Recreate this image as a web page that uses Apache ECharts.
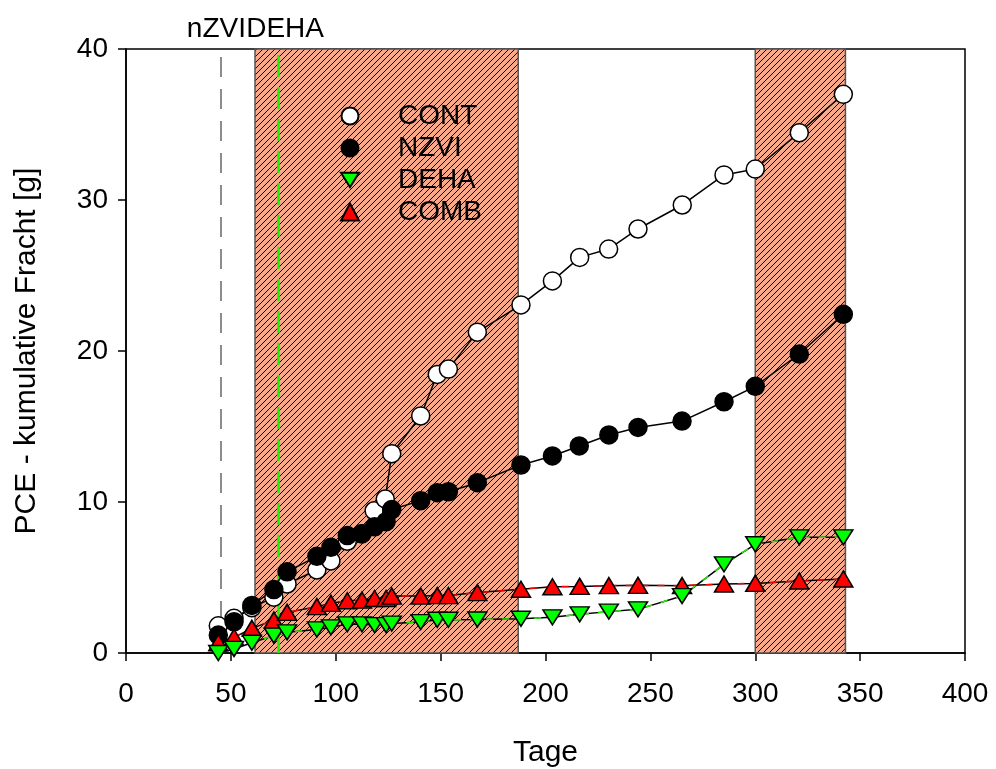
<!DOCTYPE html>
<html>
<head>
<meta charset="utf-8">
<script src="https://cdn.jsdelivr.net/npm/echarts@6/dist/echarts.min.js"></script>
<style>html,body{margin:0;padding:0;background:#fff}#c{width:996px;height:769px}</style>
</head>
<body>
<div id="c"></div>
<script>
// ---- data ----
const contData = [[44,1.8],[51.5,2.3],[60,3.0],[70.5,3.7],[76.8,4.57],[91,5.5],[97.7,6.1],[105.5,7.4],[112.5,7.9],[118.3,9.42],[123.6,10.2],[126.7,13.2],[140.5,15.7],[148.4,18.45],[153.7,18.8],[167.5,21.25],[188.3,23.05],[203.3,24.64],[216.3,26.2],[230.1,26.75],[244.1,28.08],[265.2,29.67],[285.1,31.66],[300,32.05],[321,34.46],[342,37.0]];
const nzviData = [[44,1.19],[51.5,2.07],[60,3.15],[70.5,4.2],[76.8,5.38],[91,6.4],[97.7,7.0],[105.5,7.78],[112.5,7.9],[118.5,8.36],[124,8.7],[126.7,9.5],[140.5,10.09],[148.4,10.62],[153.7,10.68],[167.5,11.28],[188.3,12.45],[203.3,13.05],[216.1,13.71],[230.2,14.44],[244.1,14.94],[265.1,15.36],[285.1,16.64],[300,17.66],[321,19.8],[342,22.43]];
const dehaData = [[44,0.0],[51.5,0.27],[60,0.68],[70.5,1.15],[76.8,1.37],[91,1.56],[97.7,1.7],[105.5,1.9],[112.5,1.9],[118.5,1.85],[124,1.85],[126.7,1.95],[140.5,2.05],[148.4,2.2],[153.7,2.2],[167.5,2.22],[188.3,2.27],[203.3,2.36],[216.3,2.56],[230.2,2.74],[244.1,2.89],[265.1,3.77],[285.1,5.87],[300,7.2],[321,7.66],[342,7.66]];
const combData = [[44,0.68],[51.5,1.04],[60,1.63],[70.5,2.18],[76.8,2.69],[91,3.07],[97.7,3.29],[105.5,3.46],[112.5,3.5],[118.5,3.61],[124,3.61],[126.7,3.77],[140.5,3.77],[148.4,3.8],[153.7,3.8],[167.5,4.0],[188.3,4.22],[203.3,4.39],[216.3,4.41],[230.2,4.46],[244.1,4.48],[265.1,4.46],[285.1,4.57],[300,4.61],[321,4.77],[342,4.9]];
const shadeRanges = [[61.5,187],[300,343]];
const eventDays = [45,72.5];
const eventLabels = ['nZVI','DEHA'];
const xTicks = [0,50,100,150,200,250,300,350,400];
const yTicks = [0,10,20,30,40];

// ---- hatch pattern ----
const pat = document.createElement('canvas');
pat.width = 6; pat.height = 6;
const pc = pat.getContext('2d');
pc.fillStyle = '#F9A88A';
pc.fillRect(0,0,6,6);
pc.strokeStyle = '#000';
pc.lineWidth = 1;
pc.beginPath();
pc.moveTo(-1,7); pc.lineTo(7,-1);
pc.moveTo(-1,1); pc.lineTo(1,-1);
pc.moveTo(5,7); pc.lineTo(7,5);
pc.stroke();

const FONT = '"Liberation Sans", Arial, sans-serif';
const downTri = 'path://M0,0L20,0L10,16Z';

const chart = echarts.init(document.getElementById('c'), null, {renderer:'canvas'});

const eventStyles = [
  {color:'#8c8c8c', width:2, type:[20,12], pad:[0,8,0,0]},
  {color:'#22ee00', width:2.5, type:[22,10], pad:[0,0,0,14]}
];

function lineSeries(data, color, z, dashed){
  return {
    type:'line', data:data, symbol:'none', z:z, silent:true,
    lineStyle:{color:color, width:1.5, type: dashed ? [7,9] : 'solid'},
    animation:false
  };
}
function pointSeries(name, data, symbol, size, color){
  return {
    name:name, type:'scatter', data:data, symbol:symbol, symbolSize:size, z:10,
    itemStyle:{color:color, borderColor:'#000', borderWidth:1.5, opacity:1},
    animation:false
  };
}

chart.setOption({
  animation:false,
  backgroundColor:'#fff',
  grid:{left:126, right:31, top:49, bottom:116, outerBoundsMode:'none', containLabel:false, show:true, borderColor:'#000', borderWidth:1.5, backgroundColor:'transparent'},
  legend:{
    orient:'vertical', left:335, top:97, itemWidth:18, itemHeight:17, itemGap:4,
    symbolKeepAspect:true,
    textStyle:{fontFamily:FONT, fontSize:28, color:'#000', lineHeight:26, padding:[0,0,0,34]},
    data:['CONT','NZVI','DEHA','COMB']
  },
  xAxis:{
    type:'value', min:xTicks[0], max:xTicks[xTicks.length-1], interval:50,
    name:'Tage', nameLocation:'middle', nameGap:85,
    nameTextStyle:{fontFamily:FONT, fontSize:30, color:'#000'},
    axisLine:{lineStyle:{color:'#000', width:1.5}},
    axisTick:{show:true, inside:false, length:8, lineStyle:{color:'#000', width:1.5}},
    axisLabel:{fontFamily:FONT, fontSize:28, color:'#000', margin:27},
    splitLine:{show:false}
  },
  yAxis:{
    type:'value', min:yTicks[0], max:yTicks[yTicks.length-1], interval:10,
    name:'PCE - kumulative Fracht [g]', nameLocation:'middle', nameGap:84,
    nameTextStyle:{fontFamily:FONT, fontSize:30, color:'#000'},
    axisLine:{lineStyle:{color:'#000', width:1.5}},
    axisTick:{show:true, inside:false, length:8, lineStyle:{color:'#000', width:1.5}},
    axisLabel:{fontFamily:FONT, fontSize:28, color:'#000', margin:18},
    splitLine:{show:false}
  },
  series:[
    {
      type:'line', data:[], z:1, silent:true,
      markArea:{
        silent:true,
        itemStyle:{color:{image:pat, repeat:'repeat'}, borderColor:'#555', borderWidth:1.5, opacity:1},
        data: shadeRanges.map(r => [{xAxis:r[0]},{xAxis:r[1]}])
      },
      markLine:{
        silent:true, symbol:['none','none'], animation:false,
        data: eventDays.map((d,i) => ({
          xAxis:d, name:eventLabels[i],
          lineStyle:{color:eventStyles[i].color, width:eventStyles[i].width, type:eventStyles[i].type},
          label:{show:true, position:'end', formatter:eventLabels[i], fontFamily:FONT, fontSize:28, color:'#000', distance:6, padding:eventStyles[i].pad}
        }))
      }
    },
    lineSeries(contData,'#000',2,false),
    lineSeries(nzviData,'#000',2,false),
    lineSeries(combData,'#000',2,false),
    lineSeries(combData,'#ff0000',3,true),
    lineSeries(dehaData,'#000',2,false),
    lineSeries(dehaData,'#22ee00',3,true),
    pointSeries('CONT', contData, 'circle', 18, '#ffffff'),
    pointSeries('NZVI', nzviData, 'circle', 18, '#000000'),
    pointSeries('COMB', combData, 'triangle', [19,16], '#ff0000'),
    pointSeries('DEHA', dehaData, downTri, [19,15], '#00ff00')
  ]
});
</script>
</body>
</html>
